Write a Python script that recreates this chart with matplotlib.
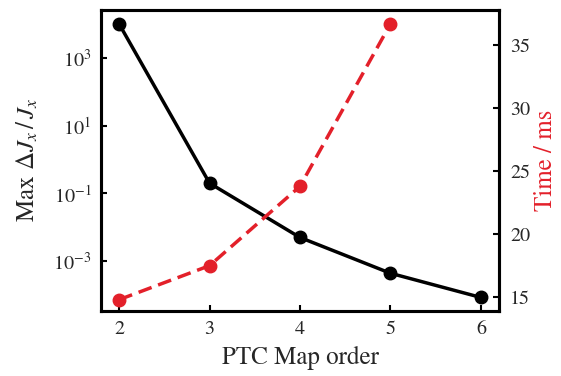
import matplotlib
matplotlib.use("Agg")
import matplotlib.pyplot as plt

orders = [2, 3, 4, 5, 6]
max_err = [1.0e4, 0.2, 5.0e-3, 4.4e-4, 8.5e-5]
time_orders = [2, 3, 4, 5]
time_ms = [14.8, 17.5, 23.8, 36.7]

plt.rcParams['font.family'] = ['STIXGeneral', 'DejaVu Serif']
plt.rcParams['mathtext.fontset'] = 'stix'
txt = '#262626'

fig = plt.figure(figsize=(5.61, 3.76), dpi=100)
ax = fig.add_axes([101/561, 1-311/376, 398/561, 301/376])
ax.plot(orders, max_err, color='black', lw=2.5, marker='o', ms=9, zorder=3)
ax.set_yscale('log')
ax.set_ylim(10**-4.47, 10**4.41)
ax.set_xlim(1.8, 6.2)
ax.set_yticks([1e3, 1e1, 1e-1, 1e-3])
ax.yaxis.set_minor_locator(matplotlib.ticker.NullLocator())
ax.set_xticks(orders)
ax.tick_params(direction='in', labelsize=14.5, width=1.5, length=4, labelcolor=txt, pad=7)
ax.set_xlabel('PTC Map order', fontsize=18, color=txt, labelpad=6)
ax.set_ylabel(r'Max $\Delta J_x\,/\,J_x$', fontsize=18, color=txt, labelpad=9)
for s in ax.spines.values():
    s.set_linewidth(2.2)

ax2 = ax.twinx()
ax2.plot(time_orders, time_ms, color='#e3202a', lw=2.5, ls='--', dashes=(4, 2), marker='o', ms=9)
ax2.set_ylim(13.9, 37.8)
ax2.set_yticks([15, 20, 25, 30, 35])
ax2.tick_params(direction='in', labelsize=14.5, width=1.5, length=4, labelcolor=txt, pad=8)
ax2.set_ylabel('Time / ms', fontsize=18, color='#e3202a', labelpad=3)
for s in ax2.spines.values():
    s.set_linewidth(2.2)

fig.savefig('out.png', dpi=100)
